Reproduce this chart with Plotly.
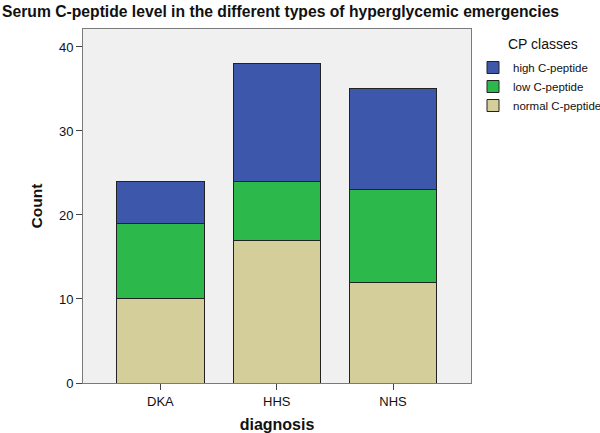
import plotly.graph_objects as go

categories = ["DKA", "HHS", "NHS"]
normal_cp = [10, 17, 12]
low_cp = [9, 7, 11]
high_cp = [5, 14, 12]

series = [
    ("normal C-peptide", normal_cp, "#d4cf9a"),
    ("low C-peptide", low_cp, "#2db84b"),
    ("high C-peptide", high_cp, "#3d58ab"),
]

fig = go.Figure()
for name, vals, col in series:
    fig.add_trace(go.Bar(
        x=categories, y=vals, name=name,
        marker=dict(color=col, line=dict(color="#222222", width=1)),
        width=0.75,
    ))

font_family = "Liberation Sans, Arial, sans-serif"
fig.update_layout(
    barmode="stack",
    width=600, height=433,
    margin=dict(l=83, r=129, t=29, b=50, autoexpand=False),
    paper_bgcolor="white",
    plot_bgcolor="#f0f0f0",
    font=dict(family=font_family, size=13, color="#111111"),
    title=dict(
        text="<b>Serum C-peptide level in the different types of hyperglycemic emergencies</b>",
        x=0.0, xanchor="left", xref="container", y=0.973, yanchor="middle",
        pad=dict(l=2, r=0, t=0, b=0),
        font=dict(size=15.7, color="#111111"),
    ),
    legend=dict(
        traceorder="reversed",
        x=(473 - 83) / 388, xanchor="left", y=(383 - 53) / 354, yanchor="top",
        font=dict(size=11.5),
        itemwidth=30,
        tracegroupgap=0,
        bgcolor="rgba(0,0,0,0)",
    ),
    annotations=[dict(
        text="CP classes", xref="paper", yref="paper",
        x=(506 - 83) / 388, xanchor="left", y=(383 - 44) / 354, yanchor="middle",
        showarrow=False, font=dict(size=14, color="#111111"),
    )],
    xaxis=dict(
        range=[-0.665, 2.67],
        automargin=False,
        title=dict(text="<b>diagnosis</b>", font=dict(size=16), standoff=12),
        showline=True, linecolor="#7a7a7a", linewidth=1, mirror=True,
        ticks="outside", ticklen=6, tickcolor="#444444",
        tickfont=dict(size=13),
        showgrid=False, zeroline=False,
    ),
    yaxis=dict(
        range=[0, 42.14],
        automargin=False,
        tickvals=[0, 10, 20, 30, 40],
        title=dict(text="<b>Count</b>", font=dict(size=15.5), standoff=12),
        showline=True, linecolor="#7a7a7a", linewidth=1, mirror=True,
        ticks="outside", ticklen=6, tickcolor="#444444",
        tickfont=dict(size=13),
        showgrid=False, zeroline=False,
    ),
)

fig.write_html(
    "out.html",
    config={"displayModeBar": False},
    post_script="document.body.style.margin='0';document.body.style.padding='0';",
)
